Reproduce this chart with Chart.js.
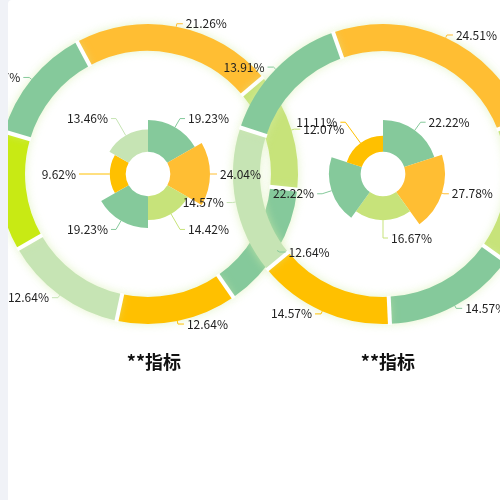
<!DOCTYPE html>
<html>
<head>
<meta charset="utf-8">
<script src="https://cdn.jsdelivr.net/npm/chart.js@4.4.1/dist/chart.umd.min.js"></script>
<style>
    html, body { margin: 0; padding: 0; background: #f0f2f7; }
    #card { position: absolute; left: 8px; top: 0; width: 492px; height: 500px; background: #fff; border-top-left-radius: 4px; overflow: hidden; }
    #card canvas { position: absolute; left: -8px; top: 0; width: 500px; height: 500px; }
    .title { position: absolute; top: 348px; width: 120px; line-height: 22px; text-align: center; font: bold 18px "Noto Sans CJK SC", sans-serif; color: #111; }
</style>
</head>
<body>
<div id="card">
    <canvas id="leftRing" width="500" height="500"></canvas>
    <canvas id="rightRing" width="500" height="500"></canvas>
    <canvas id="leftRose" width="500" height="500"></canvas>
    <canvas id="rightRose" width="500" height="500"></canvas>
    <canvas id="labelLayer" width="500" height="500"></canvas>
    <div class="title" style="left:86px">**指标</div>
    <div class="title" style="left:320px">**指标</div>
</div>
<script>
// ----------- Data -----------
const leftRingValues = [21.7, 12.8, 13.7, 13.0, 13.3, 12.9, 12.6];
const leftRingLabels = ['21.26%', '12.07%', '12.64%', '12.64%', '12.64%', '14.18%', '14.57%'];

const rightRingValues = [24.5, 15.75, 14.4, 14.75, 16.0, 14.6];
const rightRingLabels = ['24.51%', '17.87%', '14.57%', '14.57%', '14.57%', '13.91%'];

const leftRoseValues = [19.23, 24.04, 14.42, 19.23, 9.62, 13.46];
const leftRoseLabels = ['19.23%', '24.04%', '14.42%', '19.23%', '9.62%', '13.46%'];

const rightRoseValues = [22.22, 27.78, 16.67, 22.22, 11.11];
const rightRoseLabels = ['22.22%', '27.78%', '16.67%', '22.22%', '11.11%'];

// ----------- Colours -----------
const GREEN = '#85c99b', ORANGE = '#ffbe33', GOLD = '#ffc000';
const LIGHT = '#c6e4b4', LIME = '#c7e37a', BRIGHT = '#c8ea14';

const leftRingColors = [ORANGE, LIME, GREEN, GOLD, LIGHT, BRIGHT, GREEN];
const rightRingColors = [ORANGE, LIME, GREEN, GOLD, LIGHT, GREEN];
const leftRoseColors = [GREEN, ORANGE, LIME, GREEN, GOLD, LIGHT];
const rightRoseColors = [GREEN, ORANGE, LIME, GREEN, GOLD];

const CY = 174;
const HOLE = 0.36; // share of the rose radius left empty in the middle

// labels of all four charts go on one canvas above everything
const layer = document.getElementById('labelLayer');
const dpr = window.devicePixelRatio || 1;
layer.width = 500 * dpr; layer.height = 500 * dpr;
const layerCtx = layer.getContext('2d');
layerCtx.scale(dpr, dpr);

// ----------- Plugins -----------
const glow = {
    id: 'glow',
    beforeDatasetsDraw(chart) {
        const c = chart.ctx;
        c.save();
        c.shadowColor = 'rgba(214,238,170,0.65)';
        c.shadowBlur = 10;
    },
    afterDatasetsDraw(chart) { chart.ctx.restore(); }
};

// white cuts between ring slices (no outline on the outer edges)
const ringGaps = {
    id: 'ringGaps',
    afterDatasetsDraw(chart) {
        const ctx = chart.ctx;
        ctx.save();
        ctx.strokeStyle = '#fff';
        ctx.lineWidth = 4;
        chart.getDatasetMeta(0).data.forEach(arc => {
            const c = Math.cos(arc.startAngle), s = Math.sin(arc.startAngle);
            ctx.beginPath();
            ctx.moveTo(arc.x + c * (arc.innerRadius - 1), arc.y + s * (arc.innerRadius - 1));
            ctx.lineTo(arc.x + c * (arc.outerRadius + 1), arc.y + s * (arc.outerRadius + 1));
            ctx.stroke();
        });
        ctx.restore();
    }
};

const roseHole = {
    id: 'roseHole',
    afterDatasetsUpdate(chart) {
        const hole = chart.scales.r.getDistanceFromCenterForValue(0);
        chart.getDatasetMeta(0).data.forEach(a => { a.innerRadius = hole; });
    }
};

const pieLabels = {
    id: 'pieLabels',
    afterDraw(chart, args, opts) {
        const ctx = layerCtx;
        const texts = chart.data.labels;
        ctx.save();
        ctx.font = '12px "Noto Sans CJK SC", sans-serif';
        ctx.textBaseline = 'middle';
        ctx.fillStyle = '#222';
        ctx.lineWidth = 1;
        chart.getDatasetMeta(0).data.forEach((arc, i) => {
            const mid = (arc.startAngle + arc.endAngle) / 2;
            const cos = Math.cos(mid), sin = Math.sin(mid);
            const r0 = arc.outerRadius;
            const rl = opts.radius;
            const x0 = arc.x + cos * r0, y0 = arc.y + sin * r0;
            const x1 = arc.x + cos * rl, y1 = arc.y + sin * rl;
            const dir = cos < -1e-6 ? -1 : 1;
            const x2 = x1 + dir * opts.len2;
            ctx.strokeStyle = arc.options.backgroundColor;
            ctx.beginPath();
            ctx.moveTo(x0, y0); ctx.lineTo(x1, y1); ctx.lineTo(x2, y1);
            ctx.stroke();
            ctx.textAlign = dir < 0 ? 'right' : 'left';
            ctx.fillText(texts[i], x2 + dir * 3, y1);
        });
        ctx.restore();
    }
};

// ----------- Charts -----------
function ringChart(id, cx, values, labels, colors, rotation) {
    const half = Math.min(cx, 500 - cx);
    return new Chart(document.getElementById(id), {
        type: 'doughnut',
        data: { labels, datasets: [{ data: values, backgroundColor: colors, borderWidth: 0, hoverOffset: 0 }] },
        options: {
            responsive: false, animation: false, events: [],
            rotation, radius: 150, cutout: '82%',
            layout: { padding: { left: cx - half, right: 500 - cx - half, top: 0, bottom: 500 - 2 * CY } },
            plugins: {
                legend: { display: false }, tooltip: { enabled: false },
                pieLabels: { radius: 153, len2: 6 }
            }
        },
        plugins: [glow, ringGaps, pieLabels]
    });
}

function roseChart(id, cx, values, labels, colors) {
    const max = Math.max(...values);
    const R = 62;
    return new Chart(document.getElementById(id), {
        type: 'polarArea',
        data: { labels, datasets: [{ data: values, backgroundColor: colors, borderWidth: 0 }] },
        options: {
            responsive: false, animation: false, events: [],
            layout: { padding: { left: cx - R, right: 500 - cx - R, top: CY - R, bottom: 500 - CY - R } },
            scales: { r: { display: false, min: -max * HOLE / (1 - HOLE), max, startAngle: 0 } },
            plugins: {
                legend: { display: false }, tooltip: { enabled: false },
                pieLabels: { radius: 64, len2: 5 }
            }
        },
        plugins: [roseHole, pieLabels]
    });
}

ringChart('leftRing', 148, leftRingValues, leftRingLabels, leftRingColors, -28.2);
ringChart('rightRing', 383, rightRingValues, rightRingLabels, rightRingColors, -19.4);
roseChart('leftRose', 148, leftRoseValues, leftRoseLabels, leftRoseColors);
roseChart('rightRose', 383, rightRoseValues, rightRoseLabels, rightRoseColors);
</script>
</body>
</html>
